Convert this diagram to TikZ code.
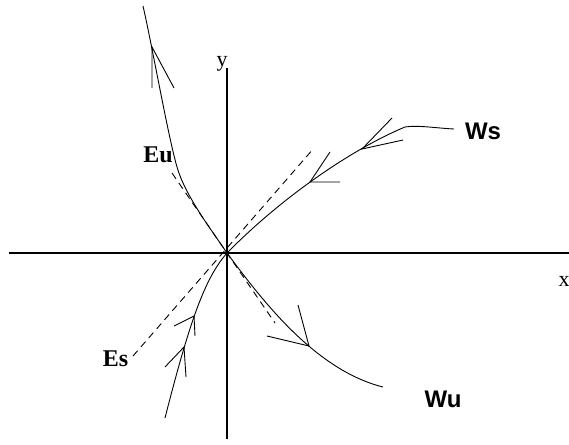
\documentclass[tikz,border=0pt]{standalone}
\usepackage{fontspec}
\setmainfont{Liberation Serif}
\newfontfamily\labelsans{Liberation Sans}
\usepackage{tikz}
\usetikzlibrary{calc}
\tikzset{
  axis/.style={line width=1.1pt, draw=black},
  manifold/.style={line width=0.9pt, draw=black},
  barb/.style={line width=0.9pt, draw=black},
  eigen/.style={line width=0.9pt, dash pattern=on 7pt off 5pt},
  axislabel/.style={inner sep=0pt, font=\fontsize{22}{26}\selectfont},
  eigenlabel/.style={inner sep=0pt, font=\fontsize{24}{28}\selectfont\bfseries},
  manlabel/.style={inner sep=0pt, font=\labelsans\fontsize{24}{28}\selectfont\bfseries}
}
\begin{document}
\begin{tikzpicture}[x=1pt, y=-1pt]
  \useasboundingbox (0,0) rectangle (569,444);
  % axes
  \coordinate (o) at (227,253);
  \coordinate (xl) at (9,253);
  \coordinate (xr) at (569,253);
  \coordinate (yt) at (227,68);
  \coordinate (yb) at (227,439);
  \draw[axis] (xl) -- (xr);
  \draw[axis] (yt) -- (yb);
  \node[axislabel] (xlab) at (564,281) {x};
  \node[axislabel] (ylab) at (222,64) {y};
  % eigen directions
  \coordinate (euA) at (172,173);
  \coordinate (euB) at (275,323);
  \coordinate (esA) at (133,356);
  \coordinate (esB) at (314,148);
  \draw[eigen] (euA) -- (euB);
  \draw[eigen] (esA) -- (esB);
  \node[eigenlabel] (eu) at (158,155) {Eu};
  \node[eigenlabel] (es) at (115.5,358.5) {Es};
  % unstable manifold
  \coordinate (wuA) at (143,6);
  \coordinate (wuM) at (177,167);
  \coordinate (wuB) at (383,387);
  \draw[manifold] (wuA) .. controls (152,45) and (168,136) .. (wuM)
    .. controls (185,195) and (210,228) .. (o)
    .. controls (262,300) and (315,370) .. (wuB);
  % stable manifold
  \coordinate (wsA) at (454,129);
  \coordinate (wsK) at (405,127);
  \coordinate (wsB) at (165,418);
  \draw[manifold] (wsA) .. controls (435,128) and (418,125) .. (wsK)
    .. controls (350,150) and (280,199) .. (o)
    .. controls (205,278) and (190,320) .. (wsB);
  \node[manlabel] (ws) at (483,131) {Ws};
  \node[manlabel] (wu) at (443,399) {Wu};
  % arrow barbs
  \coordinate (wuTop) at (152,47);
  \coordinate (wuBot) at (309,346);
  \coordinate (wsOne) at (362,149);
  \coordinate (wsTwo) at (310,182);
  \coordinate (wsThree) at (194,316);
  \coordinate (wsFour) at (184,347);
  \draw[barb] (152,88) -- (wuTop) -- (174,88);
  \draw[barb] (267,336) -- (wuBot) -- (298,305);
  \draw[barb] (392,118) -- (wsOne) -- (403,140);
  \draw[barb] (330,152) -- (wsTwo) -- (340,182);
  \draw[barb] (174,326) -- (wsThree) -- (195,336);
  \draw[barb] (165,367) -- (wsFour) -- (186,377);
\end{tikzpicture}
\end{document}
